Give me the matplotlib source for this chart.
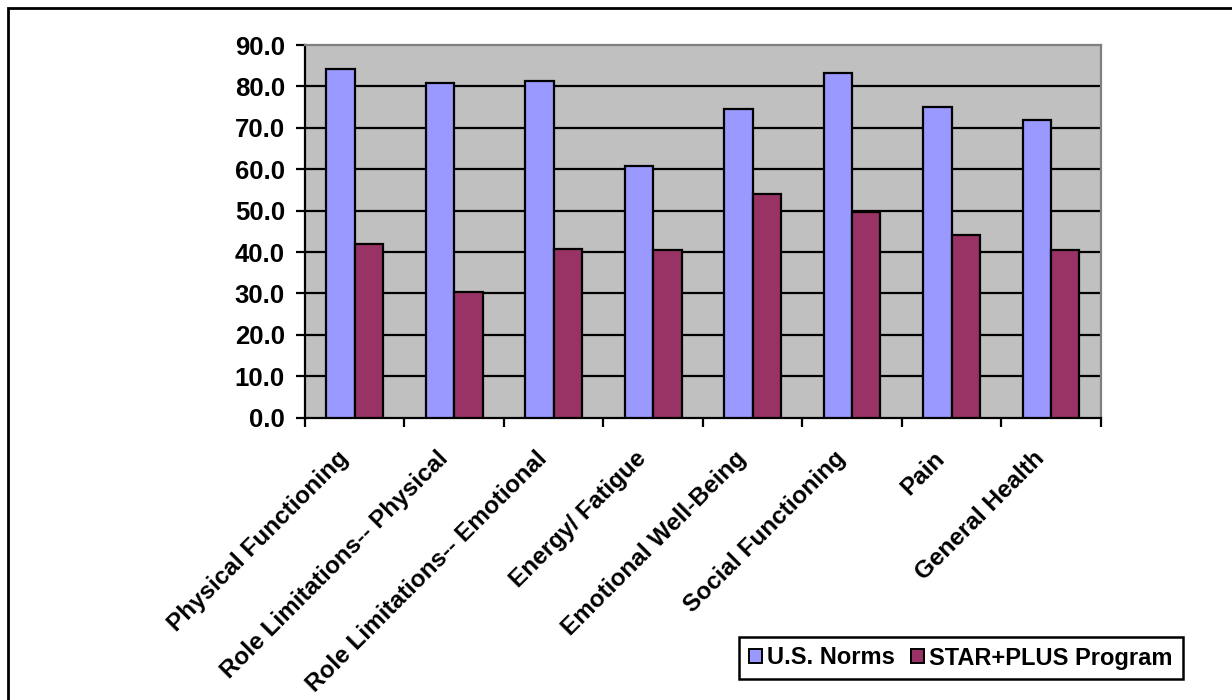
import matplotlib
matplotlib.use("Agg")
import matplotlib.pyplot as plt
import matplotlib.patches as mpatches
import matplotlib.transforms as mtransforms
import numpy as np

# data
categories = ["Physical Functioning", "Role Limitations-- Physical",
              "Role Limitations-- Emotional", "Energy/ Fatigue",
              "Emotional Well-Being", "Social Functioning", "Pain",
              "General Health"]
us_norms = [84.1, 80.9, 81.2, 60.8, 74.6, 83.3, 75.1, 71.9]
star_plus = [41.9, 30.4, 40.8, 40.6, 54.0, 49.6, 44.1, 40.6]
series_names = ["U.S. Norms", "STAR+PLUS Program"]

plt.rcParams['font.family'] = ['Liberation Sans', 'DejaVu Sans']
plt.rcParams['font.weight'] = 'bold'

fig = plt.figure(figsize=(12.32, 7), dpi=100)
ax = fig.add_axes([305 / 1232, 1 - 417.7 / 700, 795.7 / 1232, 372.7 / 700])
ax.set_facecolor('#C0C0C0')

x = np.arange(len(categories))
w = 0.286
ax.bar(x - w / 2, us_norms, w, color='#9999FF', edgecolor='black', linewidth=1.6, zorder=3)
ax.bar(x + w / 2, star_plus, w, color='#993366', edgecolor='black', linewidth=1.6, zorder=3)

#gridlines
ax.set_ylim(0, 90)
ax.set_yticks(np.arange(0, 91, 10))
ax.set_yticklabels(["%.1f" % v for v in np.arange(0, 91, 10)], fontsize=18.5, fontweight='bold')
for v in range(10, 90, 10):
    ax.axhline(v, color='black', linewidth=1.6, zorder=1)

ax.set_xlim(-0.5, len(categories) - 0.5)
ax.set_xticks(np.arange(-0.5, len(categories)))
ax.set_xticklabels([])
ax.set_xticks(x, minor=True)
ax.set_xticklabels(categories, minor=True, rotation=45, ha='right', va='center',
                   rotation_mode='anchor', fontsize=17.5, fontweight='bold')
ax.tick_params(axis='x', which='minor', length=0, pad=27)
ax.tick_params(axis='both', which='major', direction='out', length=6.5, width=1.6, color='black')
ax.tick_params(axis='y', pad=8)

# nudge the slanted labels a little to the left
shift = mtransforms.ScaledTranslation(-10 / 100, 0, fig.dpi_scale_trans)
for lab in ax.get_xticklabels(minor=True):
    lab.set_transform(lab.get_transform() + shift)

for s in ['left', 'bottom']:
    ax.spines[s].set_color('black')
    ax.spines[s].set_linewidth(1.6)
for s in ['top', 'right']:
    ax.spines[s].set_color('#808080')
    ax.spines[s].set_linewidth(1.6)

# legend
handles = [mpatches.Patch(facecolor='#9999FF', edgecolor='black', linewidth=1.4),
           mpatches.Patch(facecolor='#993366', edgecolor='black', linewidth=1.4)]
leg = fig.legend(handles, series_names, loc='center', bbox_to_anchor=(0.780, 0.060),
                 ncol=2, fancybox=False, edgecolor='black', framealpha=1,
                 handlelength=0.55, handleheight=0.55, handletextpad=0.2,
                 columnspacing=0.7, borderpad=0.42, borderaxespad=0,
                 prop={'size': 17, 'weight': 'bold'})
leg.get_frame().set_linewidth(1.8)

# outer chart border
fig.patches.append(mpatches.Rectangle((8 / 1232, -0.05), 1.1, 1 - 8 / 700 + 0.05,
                                      transform=fig.transFigure, fill=False,
                                      edgecolor='black', linewidth=2))

fig.savefig("out.png", dpi=100)
